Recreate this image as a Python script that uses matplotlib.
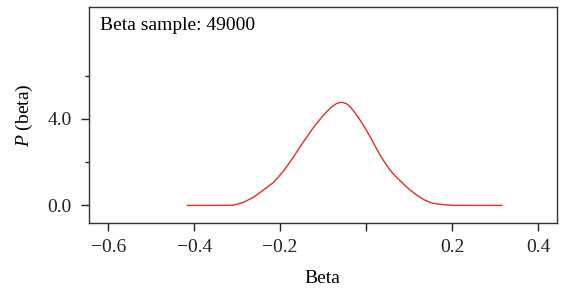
import matplotlib.pyplot as plt
from matplotlib.ticker import FixedLocator

plt.rcParams['font.family'] = ['Liberation Serif', 'DejaVu Serif']
plt.rcParams['mathtext.fontset'] = 'custom'
plt.rcParams['mathtext.it'] = 'Liberation Serif:italic'
plt.rcParams['mathtext.rm'] = 'Liberation Serif'

beta = [-0.416, -0.37, -0.3395, -0.3086, -0.2853, -0.262, -0.2388, -0.2156, -0.1923,
        -0.169, -0.1458, -0.1226, -0.0993, -0.0798, -0.0683, -0.057, -0.0458,
        -0.0372, -0.026, -0.014, -0.002, 0.0093, 0.021, 0.0326, 0.044, 0.0558,
        0.067, 0.079, 0.091, 0.1023, 0.114, 0.1256, 0.137, 0.1488, 0.16, 0.172,
        0.188, 0.203, 0.25, 0.316]
dens = [0.0, 0.0, 0.0, 0.01, 0.14, 0.38, 0.71, 1.06, 1.58,
        2.24, 2.94, 3.60, 4.17, 4.56, 4.71, 4.77, 4.70,
        4.56, 4.28, 3.94, 3.56, 3.17, 2.74, 2.32, 1.96, 1.63,
        1.37, 1.14, 0.91, 0.71, 0.53, 0.37, 0.24, 0.14, 0.08, 0.05,
        0.02, 0.0, 0.0, 0.0]

xticks = [-0.6, -0.4, -0.2, 0.0, 0.2, 0.4]
yticks = [0.0, 4.0]
yminor = [2.0, 6.0]

fig = plt.figure(figsize=(5.62, 2.94), dpi=100)
ax = fig.add_axes([0.1575, 0.2425, 0.8335, 0.7325])

ax.plot(beta, dens, color="#e0301e", lw=1.0)

ax.set_xlim(-0.646, 0.444)
ax.set_ylim(-0.8, 9.15)

# le 0 a un tick mais pas de libellé
ax.xaxis.set_major_locator(FixedLocator(xticks))
ax.set_xticklabels([f"{t:.1f}".replace("-", "\u2212") if t != 0 else "" for t in xticks])
ax.set_yticks(yticks)
ax.set_yticklabels([f"{t:.1f}" for t in yticks])
ax.yaxis.set_minor_locator(FixedLocator(yminor))

ax.tick_params(axis='both', which='major', direction='out', length=6, width=1,
               pad=6, labelsize=14, colors='#222222')
ax.tick_params(axis='y', which='minor', direction='out', length=3, width=1, colors='#222222')
for s in ax.spines.values():
    s.set_color('#333333')
    s.set_linewidth(1.0)

ax.set_xlabel("Beta", fontsize=14, labelpad=10)
ax.set_ylabel(r"$P$ (beta)", fontsize=14, labelpad=9)

ax.text(0.025, 0.955, "Beta sample: 49000", transform=ax.transAxes,
        fontsize=14, va='top', ha='left')

fig.savefig("out.png", dpi=100)
